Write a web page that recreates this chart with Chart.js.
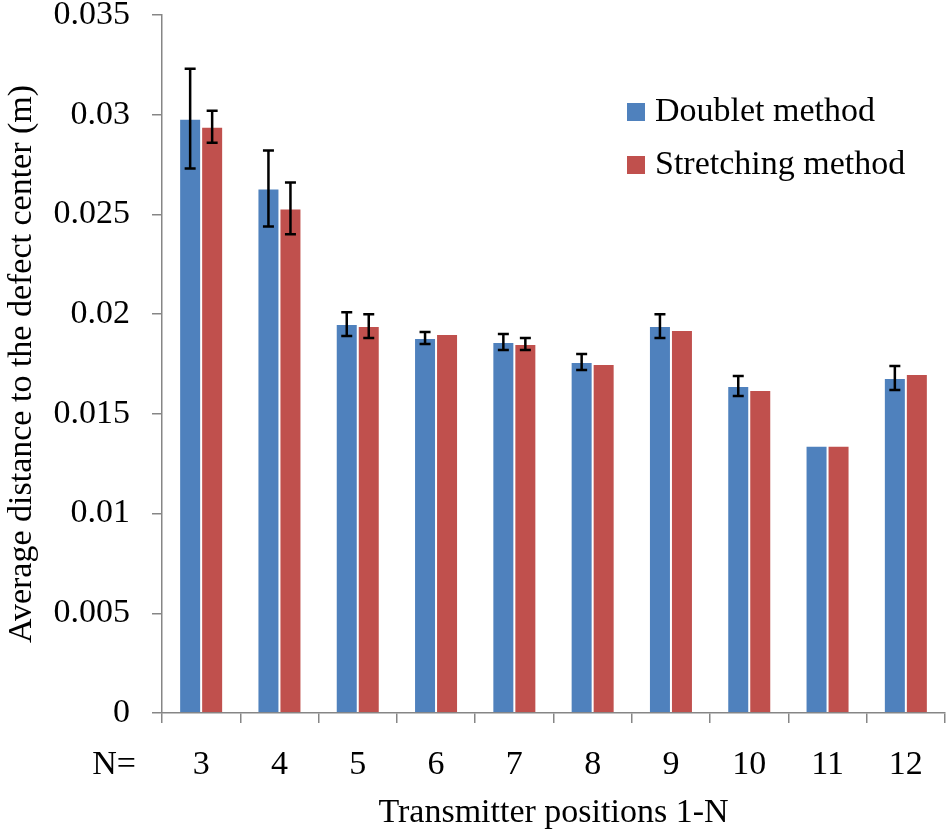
<!DOCTYPE html>
<html><head><meta charset="utf-8">
<script src="https://cdn.jsdelivr.net/npm/chart.js@4.4.0/dist/chart.umd.min.js"></script>
<style>html,body{margin:0;padding:0;background:#fff}</style>
</head><body>
<canvas id="c" width="947" height="835" style="width:947px;height:835px;display:block"></canvas>
<script>
const categories = ['3','4','5','6','7','8','9','10','11','12'];
const seriesNames = ['Doublet method','Stretching method'];
const doublet = [0.0298,0.0263,0.0195,0.0188,0.0186,0.0176,0.0194,0.0164,0.0134,0.0168];
const doubletErr = [0.0025,0.0019,0.0006,0.0003,0.0004,0.0004,0.0006,0.0005,0,0.0006];
const stretching = [0.0294,0.0253,0.0194,0.0190,0.0185,0.0175,0.0192,0.0162,0.0134,0.0170];
const stretchingErr = [0.0008,0.0013,0.0006,0,0.0003,0,0,0,0,0];
const yTickLabels = ['0','0.005','0.01','0.015','0.02','0.025','0.03','0.035'];
const xPrefixLabel = 'N=';
const xTitle = 'Transmitter positions 1-N';
const yTitle = 'Average distance to the defect center (m)';

const FONT = "'Liberation Serif', 'Times New Roman', serif";
const AXIS = '#868686';
const colors = ['#4F81BD', '#C0504D'];
const errs = [doubletErr, stretchingErr];
const X_TICK_PAD = 22;

const errorBars = {
  id: 'errorBars',
  afterDatasetsDraw(chart) {
    const ctx = chart.ctx, y = chart.scales.y;
    ctx.save();
    ctx.strokeStyle = '#000';
    ctx.lineWidth = 2.5;
    chart.data.datasets.forEach((ds, di) => {
      const meta = chart.getDatasetMeta(di);
      meta.data.forEach((bar, i) => {
        const e = errs[di][i];
        if (!e) return;
        const v = ds.data[i];
        const top = y.getPixelForValue(v + e), bot = y.getPixelForValue(v - e);
        const x = bar.x, w = 5.5;
        ctx.beginPath();
        ctx.moveTo(x, top); ctx.lineTo(x, bot);
        ctx.moveTo(x - w, top); ctx.lineTo(x + w, top);
        ctx.moveTo(x - w, bot); ctx.lineTo(x + w, bot);
        ctx.stroke();
      });
    });
    ctx.restore();
  }
};

const extras = {
  id: 'extras',
  afterDraw(chart) {
    const ctx = chart.ctx, x = chart.scales.x;
    ctx.save();
    ctx.font = '34px ' + FONT;
    ctx.fillStyle = '#000';
    ctx.textBaseline = 'middle';
    const lx = 627, ly = [112, 165];
    seriesNames.forEach((n, i) => {
      ctx.fillStyle = colors[i];
      ctx.fillRect(lx, ly[i] - 9, 18, 18);
      ctx.fillStyle = '#000';
      ctx.textAlign = 'left';
      ctx.fillText(n, lx + 28, ly[i]);
    });
    ctx.textAlign = 'center';
    const labelY = x.top + 10 + X_TICK_PAD + 20.4;
    ctx.fillText(xPrefixLabel, 114, labelY);
    ctx.restore();
  }
};

new Chart(document.getElementById('c'), {
  type: 'bar',
  data: {
    labels: categories,
    datasets: [
      { label: seriesNames[0], data: doublet, backgroundColor: colors[0], borderColor: 'rgba(255,255,255,0.18)', borderWidth: 1 },
      { label: seriesNames[1], data: stretching, backgroundColor: colors[1], borderColor: 'rgba(255,255,255,0.18)', borderWidth: 1 }
    ]
  },
  options: {
    responsive: false,
    animation: false,
    devicePixelRatio: 1,
    layout: { padding: { top: 15, right: 2, left: 0, bottom: 0 } },
    datasets: { bar: { categoryPercentage: 0.562, barPercentage: 1.0 } },
    plugins: { legend: { display: false }, tooltip: { enabled: false } },
    scales: {
      x: {
        grid: { offset: true, drawOnChartArea: false, drawTicks: true, tickLength: 10, color: AXIS, lineWidth: 1.5 },
        border: { color: AXIS, width: 1.5 },
        ticks: { color: '#000', font: { family: FONT, size: 34 }, padding: X_TICK_PAD, maxRotation: 0 },
        title: { display: true, text: xTitle, color: '#000', font: { family: FONT, size: 34 }, padding: { top: 0, bottom: 2 } },
        afterFit(s) { s.height = 122; s.paddingLeft = 0; s.paddingRight = 0; }
      },
      y: {
        min: 0, max: 0.035,
        grid: { drawOnChartArea: false, drawTicks: true, tickLength: 10, color: AXIS, lineWidth: 1.5 },
        border: { color: AXIS, width: 1.5 },
        ticks: { stepSize: 0.005, color: '#000', font: { family: FONT, size: 34 }, padding: 22,
                 callback: (v, i) => yTickLabels[i] },
        title: { display: true, text: yTitle, color: '#000', font: { family: FONT, size: 34 }, padding: { top: 2, bottom: 0 } },
        afterFit(s) { s.width = 162; s.paddingTop = 0; s.paddingBottom = 0; }
      }
    }
  },
  plugins: [errorBars, extras]
});
</script>
</body></html>
